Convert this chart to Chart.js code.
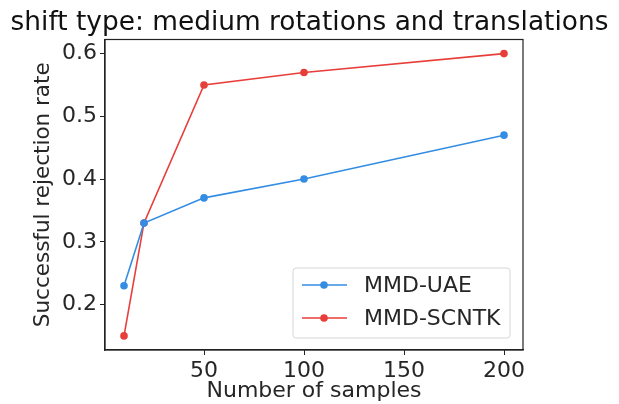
<!DOCTYPE html>
<html>
<head>
<meta charset="utf-8">
<script src="https://cdn.jsdelivr.net/npm/chart.js@4"></script>
<style>
  html, body { margin: 0; padding: 0; background: #fff; }
  #wrap { width: 619px; height: 404px; }
</style>
</head>
<body>
<div id="wrap"><canvas id="chart" width="619" height="404"></canvas></div>
<script>
// values
const samples = [10, 20, 50, 100, 200];
const uaeRates = [0.23, 0.33, 0.37, 0.40, 0.47];
const scntkRates = [0.15, 0.33, 0.55, 0.57, 0.60];
const xTicks = [50, 100, 150, 200];
const yTicks = [0.2, 0.3, 0.4, 0.5, 0.6];
const seriesNames = ["MMD-UAE", "MMD-SCNTK"];
const titleText = "shift type: medium rotations and translations";

const blue = "rgb(52, 141, 228)";
const red = "rgb(232, 62, 58)";
const textColor = "#262626";
const font = "'DejaVu Sans', sans-serif";

// title over the whole width, frame round the plot area, legend inside bottom right
const framePlugin = {
  id: "frame",
  afterDraw(chart) {
    const ctx = chart.ctx;
    const a = chart.chartArea;
    ctx.save();
    ctx.fillStyle = "#111";
    ctx.font = "26.4px " + font;
    ctx.textAlign = "center";
    ctx.textBaseline = "alphabetic";
    ctx.fillText(titleText, chart.width / 2, 30);
    ctx.textAlign = "left";

    ctx.strokeStyle = "#222";
    ctx.lineWidth = 1.2;
    ctx.strokeRect(a.left, a.top, a.right - a.left, a.bottom - a.top);

    // legend box
    const bx = 293, by = 268, bw = 217, bh = 70;
    ctx.fillStyle = "rgba(255,255,255,0.8)";
    ctx.strokeStyle = "#d6d6d6";
    ctx.lineWidth = 1;
    ctx.beginPath();
    ctx.roundRect(bx, by, bw, bh, 3);
    ctx.fill();
    ctx.stroke();
    chart.data.datasets.forEach((ds, i) => {
      const cy = by + 17 + i * 33;
      ctx.strokeStyle = ds.borderColor;
      ctx.lineWidth = 1.5;
      ctx.beginPath();
      ctx.moveTo(302, cy);
      ctx.lineTo(347, cy);
      ctx.stroke();
      ctx.fillStyle = ds.borderColor;
      ctx.beginPath();
      ctx.arc(324, cy, 3.8, 0, Math.PI * 2);
      ctx.fill();
      ctx.fillStyle = textColor;
      ctx.font = "22px " + font;
      ctx.textBaseline = "middle";
      ctx.fillText(ds.label, 364, cy + 1);
    });
    ctx.restore();
  }
};

new Chart(document.getElementById("chart"), {
  type: "line",
  data: {
    datasets: [
      {
        label: seriesNames[0],
        data: samples.map((s, i) => ({ x: s, y: uaeRates[i] })),
        borderColor: blue,
        backgroundColor: blue,
        borderWidth: 1.6,
        pointRadius: 3.8,
        pointBorderWidth: 0,
      },
      {
        label: seriesNames[1],
        data: samples.map((s, i) => ({ x: s, y: scntkRates[i] })),
        borderColor: red,
        backgroundColor: red,
        borderWidth: 1.6,
        pointRadius: 3.8,
        pointBorderWidth: 0,
      },
    ],
  },
  options: {
    responsive: false,
    animation: false,
    layout: { padding: { top: 39.5, right: 96, left: 0, bottom: 0 } },
    plugins: {
      legend: { display: false },
      tooltip: { enabled: false },
      title: { display: false },
    },
    scales: {
      x: {
        type: "linear",
        min: 0.5,
        max: 209.5,
        afterBuildTicks: (scale) => { scale.ticks = xTicks.map(v => ({ value: v })); },
        afterFit: (scale) => { scale.height = 54; },
        grid: { drawOnChartArea: false, tickLength: 5, color: "#222" },
        border: { color: "#222", width: 1.2 },
        ticks: { color: textColor, font: { family: font, size: 22 }, padding: 3, maxRotation: 0 },
        title: {
          display: true,
          text: "Number of samples",
          color: textColor,
          font: { family: font, size: 22 },
          padding: { top: 0, bottom: 0 },
        },
      },
      y: {
        min: 0.1275,
        max: 0.6225,
        afterBuildTicks: (scale) => { scale.ticks = yTicks.map(v => ({ value: v })); },
        afterFit: (scale) => { scale.width = 105; },
        grid: { drawOnChartArea: false, tickLength: 5, color: "#222" },
        border: { color: "#222", width: 1.2 },
        ticks: {
          color: textColor,
          font: { family: font, size: 22 },
          padding: 3,
          callback: (v) => v.toFixed(1),
        },
        title: {
          display: true,
          text: "Successful rejection rate",
          color: textColor,
          font: { family: font, size: 21.5 },
          padding: { top: 31, bottom: 0 },
        },
      },
    },
  },
  plugins: [framePlugin],
});
</script>
</body>
</html>
